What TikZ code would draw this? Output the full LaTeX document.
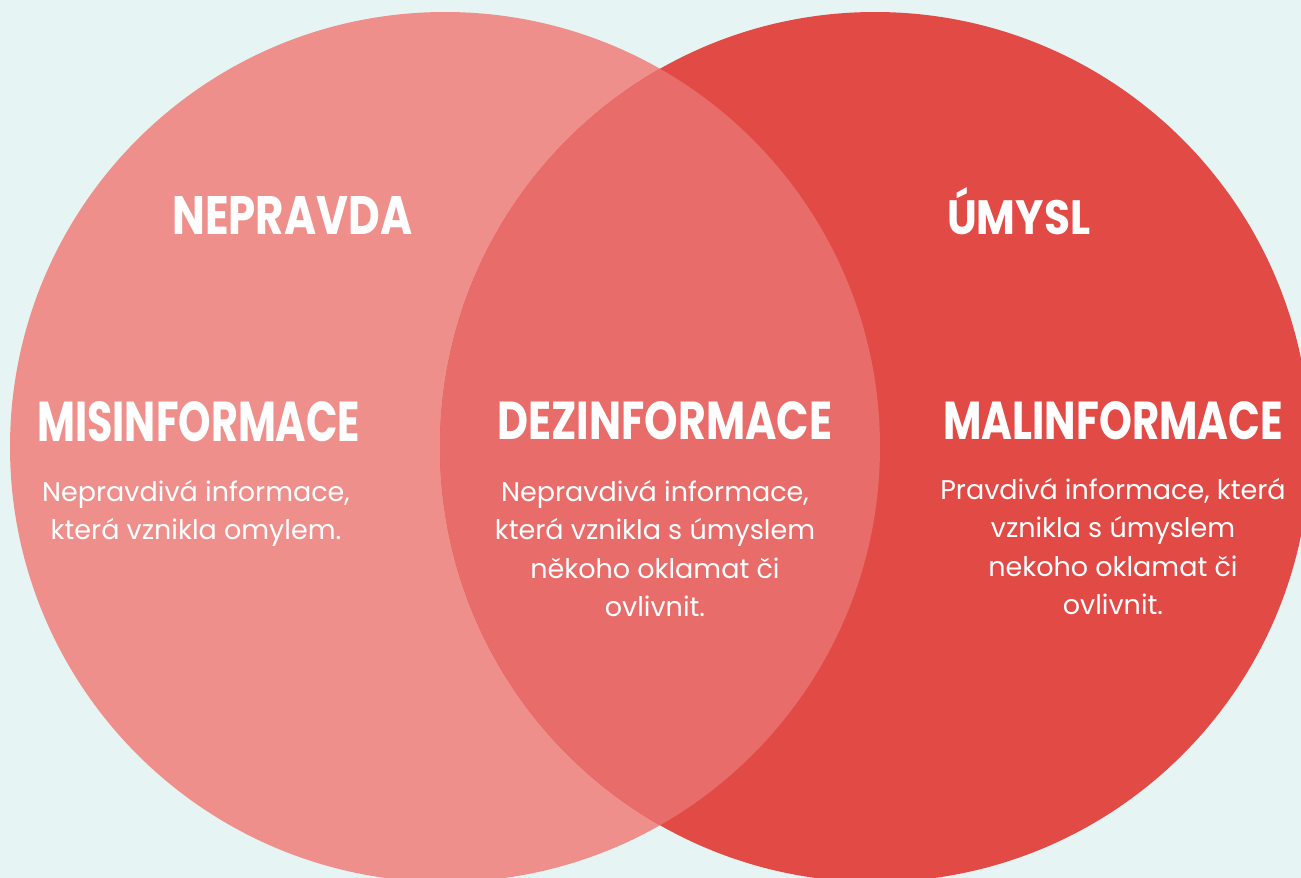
\documentclass[tikz,border=0pt]{standalone}
\usepackage{fontspec}
\setmainfont{Poppins}
\newfontfamily\headfont{Poppins}
\definecolor{bgc}{HTML}{E7F4F4}
\definecolor{leftc}{HTML}{EF8F8B}
\definecolor{rightc}{HTML}{E24A46}
\definecolor{midc}{HTML}{E86D6A}
\tikzset{
  head/.style={anchor=south west, inner sep=0pt, text=white, font=\headfont\bfseries},
  body/.style={anchor=north, inner sep=0pt, text=white, align=center, font=\fontsize{27}{38.5}\selectfont},
}
\begin{document}
\begin{tikzpicture}[x=1pt,y=-1pt]
\useasboundingbox (0,0) rectangle (1301,878);
\clip (0,0) rectangle (1301,878);
\fill[bgc] (0,0) rectangle (1301,878);
\fill[leftc] (445,447) circle[radius=435pt];
\fill[rightc] (875,447) circle[radius=435pt];
\begin{scope}
  \clip (445,447) circle[radius=435pt];
  \fill[midc] (875,447) circle[radius=435pt];
\end{scope}
\node[head] (nepravda) at (172,235) {\resizebox{240pt}{38pt}{NEPRAVDA}};
\node[head] (umysl) at (947,235) {\resizebox{143pt}{47pt}{ÚMYSL}};
\node[head] (mis) at (37,442) {\resizebox{323pt}{40pt}{MISINFORMACE}};
\node[head] (dez) at (497,440) {\resizebox{335pt}{38pt}{DEZINFORMACE}};
\node[head] (mal) at (943,440) {\resizebox{340pt}{38pt}{MALINFORMACE}};
\node[body] (misdesc) at (196,480) {Nepravdivá informace,\\která vznikla omylem.};
\node[body] (dezdesc) at (655,480) {Nepravdivá informace,\\která vznikla s úmyslem\\někoho oklamat či\\ovlivnit.};
\node[body] (maldesc) at (1113,478) {Pravdivá informace, která\\vznikla s úmyslem\\nekoho oklamat či\\ovlivnit.};
\end{tikzpicture}
\end{document}
